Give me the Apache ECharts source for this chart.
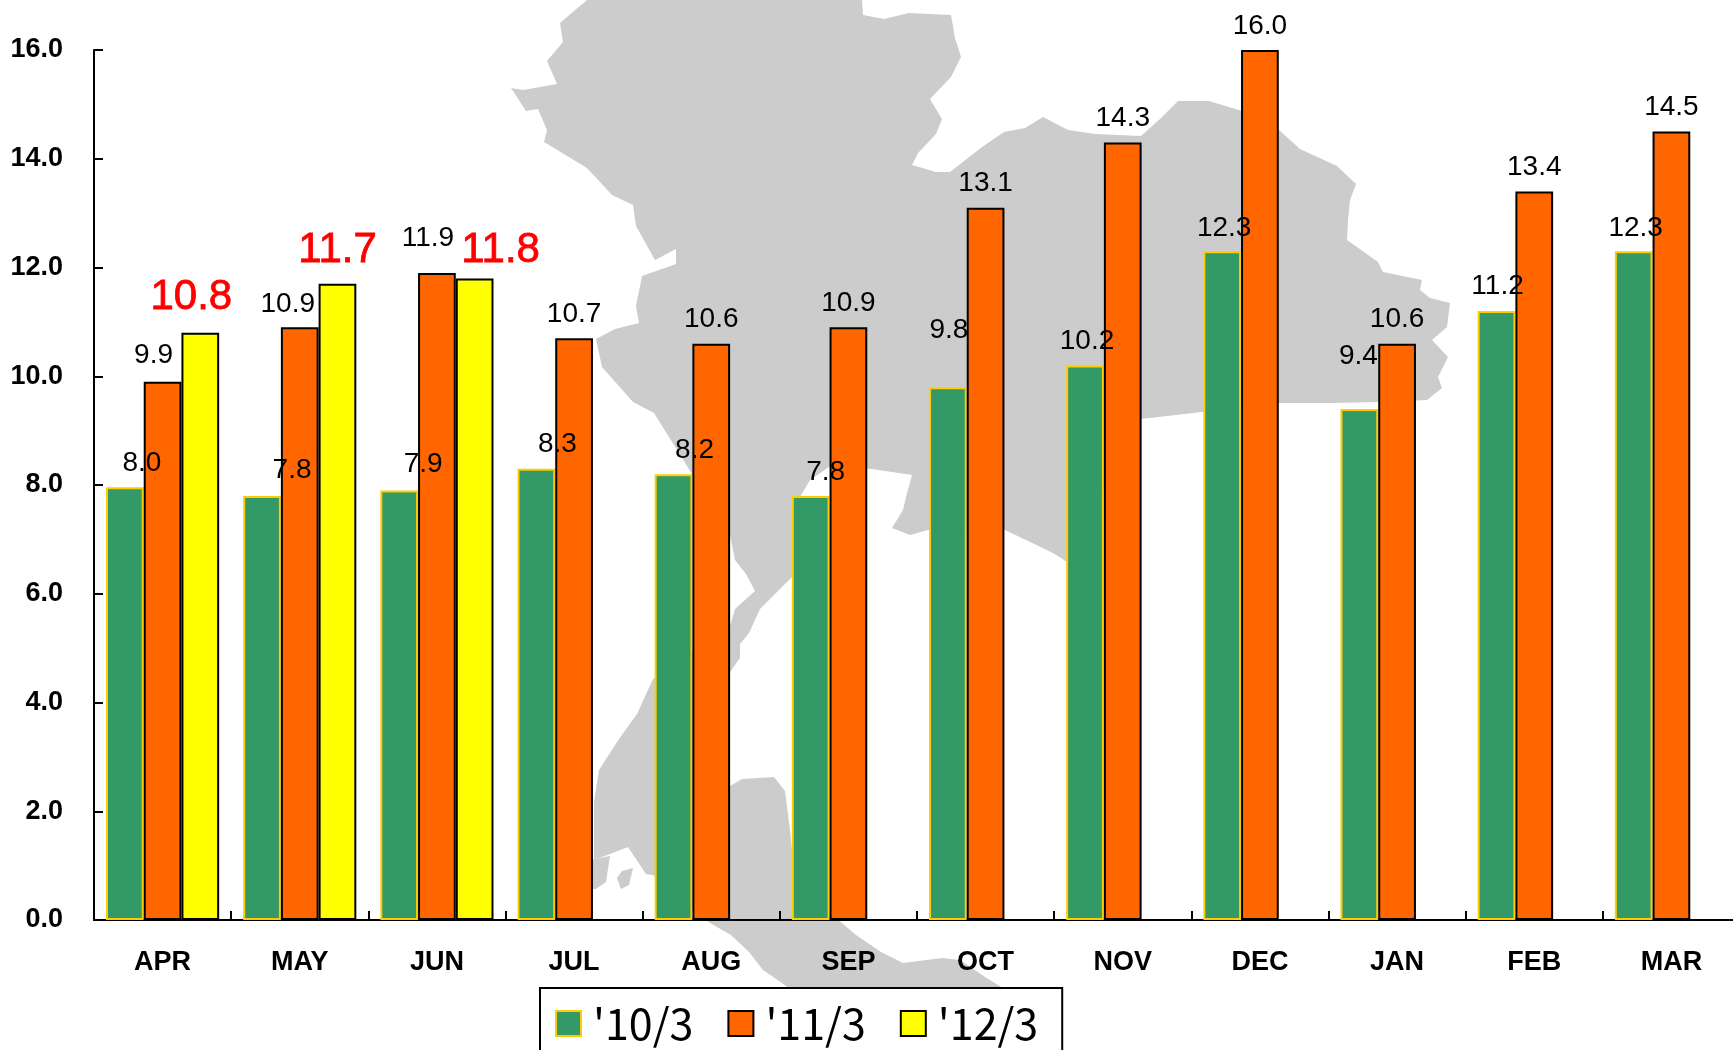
<!DOCTYPE html>
<html>
<head>
<meta charset="utf-8">
<title>chart</title>
<style>
  html, body { margin: 0; padding: 0; background: #fff; overflow: hidden; }
  #chart { width: 1733px; height: 1050px; }
</style>
<script src="https://cdn.jsdelivr.net/npm/echarts@6/dist/echarts.min.js"></script>
</head>
<body>
<div id="chart"></div>
<script>
const months = ['APR', 'MAY', 'JUN', 'JUL', 'AUG', 'SEP', 'OCT', 'NOV', 'DEC', 'JAN', 'FEB', 'MAR']
const seriesNames = ["'10/3", "'11/3", "'12/3"]
const values10 = [7.96, 7.8, 7.9, 8.3, 8.2, 7.8, 9.8, 10.2, 12.3, 9.4, 11.2, 12.3]
const values11 = [9.9, 10.9, 11.9, 10.7, 10.6, 10.9, 13.1, 14.3, 16.0, 10.6, 13.4, 14.5]
const values12 = [10.8, 11.7, 11.8, null, null, null, null, null, null, null, null, null]
const yTicks = { min: 0, max: 16, interval: 2 }

// hand placed data labels in the original, nudges in px from the default spot
const nudge10 = [[17, 0], [30, -2], [24, -2], [21, 0], [21, 0], [15, 0], [1, -33], [2, 0], [2, 1], [-1, -29], [1, -1], [2, 1]]
const nudge11 = [[-9, -2], [-12, 1], [-9, -11], [0, 0], [0, 0], [0, 0], [0, 0], [0, 0], [0, 0], [0, 0], [0, 0], [0, 0]]
const nudge12 = [[-9, -4], [0, -2], [26, 3]]

// grey map behind the plot, traced outline only (not data)
const mapMain = [[587,0],[862,0],[863,15],[884,19],[909,13],[951,15],[955,38],[961,57],[951,77],[930,99],[942,119],[936,134],[918,153],[912,165],[936,172],[950,172],[982,147],[1004,132],[1025,128],[1043,117],[1068,130],[1095,134],[1141,136],[1160,119],[1178,101],[1209,101],[1242,111],[1279,130],[1300,149],[1337,166],[1356,184],[1350,200],[1348,220],[1347,240],[1378,262],[1383,272],[1422,280],[1420,290],[1430,298],[1450,303],[1447,327],[1432,340],[1448,357],[1438,377],[1442,388],[1427,400],[1377,402],[1333,403],[1280,403],[1141,419],[1067,562],[1053,553],[1024,539],[1005,530],[928,530],[910,535],[892,528],[903,510],[906,497],[912,475],[872,469],[829,467],[810,480],[800,497],[795,540],[792,577],[778,591],[760,609],[749,633],[740,644],[740,658],[730,672],[700,740],[730,786],[742,779],[774,777],[785,791],[790,830],[795,880],[842,923],[856,935],[881,952],[903,963],[942,958],[960,960],[985,977],[1003,988],[1003,1000],[789,1000],[789,988],[763,970],[749,952],[731,935],[710,923],[680,900],[653,875],[646,874],[628,847],[610,854],[594,860],[594,802],[599,770],[619,739],[637,714],[653,679],[730,626],[735,609],[755,591],[746,574],[735,560],[730,535],[654,413],[633,402],[602,367],[596,339],[615,329],[639,323],[636,306],[642,276],[676,264],[676,249],[655,260],[636,226],[633,205],[612,195],[587,168],[544,142],[547,130],[538,109],[526,111],[511,88],[523,90],[557,84],[547,61],[563,42],[560,23]]
const mapIslandA = [[590,860],[610,856],[606,882],[596,889],[590,889]]
const mapIslandB = [[622,871],[633,868],[629,885],[621,889],[617,878]]

const font = 'Liberation Sans'

function barData(values, nudges, fontSize, color, thick) {
  return values.map((v, i) => ({
    value: v,
    label: {
      offset: nudges[i] || [0, 0],
      fontSize,
      color,
      textBorderColor: color,
      textBorderWidth: thick
    }
  }))
}

function barSeries(name, values, nudges, fill, border, fontSize, labelColor, thick) {
  return {
    name,
    type: 'bar',
    barGap: 0,
    barCategoryGap: '17.5%',
    itemStyle: { color: fill, borderColor: border, borderWidth: 2 },
    label: {
      show: true,
      position: 'top',
      distance: 10,
      fontFamily: font,
      formatter: p => p.value.toFixed(1)
    },
    animation: false,
    data: barData(values, nudges, fontSize, labelColor, thick)
  }
}

function mapShape(points) {
  return { type: 'polygon', silent: true, z: -10, shape: { points }, style: { fill: '#cccccc' } }
}

const chart = echarts.init(document.getElementById('chart'))
chart.setOption({
  animation: false,
  backgroundColor: '#fff',
  graphic: [mapShape(mapMain), mapShape(mapIslandA), mapShape(mapIslandB)],
  // the plot runs past the right edge in the original, do not let echarts squeeze it in
  grid: { left: 94, top: 50, width: 1646, height: 870, outerBoundsMode: 'none' },
  legend: {
    left: 540,
    top: 988,
    padding: [14, 24, 30, 15],
    itemWidth: 25,
    itemHeight: 25,
    itemGap: 34,
    icon: 'rect',
    selectedMode: false,
    backgroundColor: '#fff',
    borderColor: '#000',
    borderWidth: 2,
    textStyle: { fontFamily: 'Noto Sans CJK JP', fontSize: 43, color: '#000', padding: [6, 0, 0, 7] },
    data: seriesNames
  },
  xAxis: {
    type: 'category',
    data: months,
    axisLine: { lineStyle: { color: '#000', width: 2 } },
    axisTick: { show: true, inside: true, length: 9, lineStyle: { color: '#000', width: 2 } },
    axisLabel: { fontFamily: font, fontSize: 27, fontWeight: 'bold', color: '#000', margin: 29 }
  },
  yAxis: {
    type: 'value',
    min: yTicks.min,
    max: yTicks.max,
    interval: yTicks.interval,
    splitLine: { show: false },
    axisLine: { show: true, lineStyle: { color: '#000', width: 2 } },
    axisTick: { show: true, inside: true, length: 9, lineStyle: { color: '#000', width: 2 } },
    axisLabel: { fontFamily: font, fontSize: 27, fontWeight: 'bold', color: '#000', margin: 31, padding: [7, 0, 0, 0], formatter: v => v.toFixed(1) }
  },
  series: [
    barSeries(seriesNames[0], values10, nudge10, '#339966', '#ffcc00', 28, '#000', 0),
    barSeries(seriesNames[1], values11, nudge11, '#ff6600', '#000', 28, '#000', 0),
    barSeries(seriesNames[2], values12, nudge12, '#ffff00', '#000', 42, '#ff0000', 0.8)
  ]
})
</script>
</body>
</html>
